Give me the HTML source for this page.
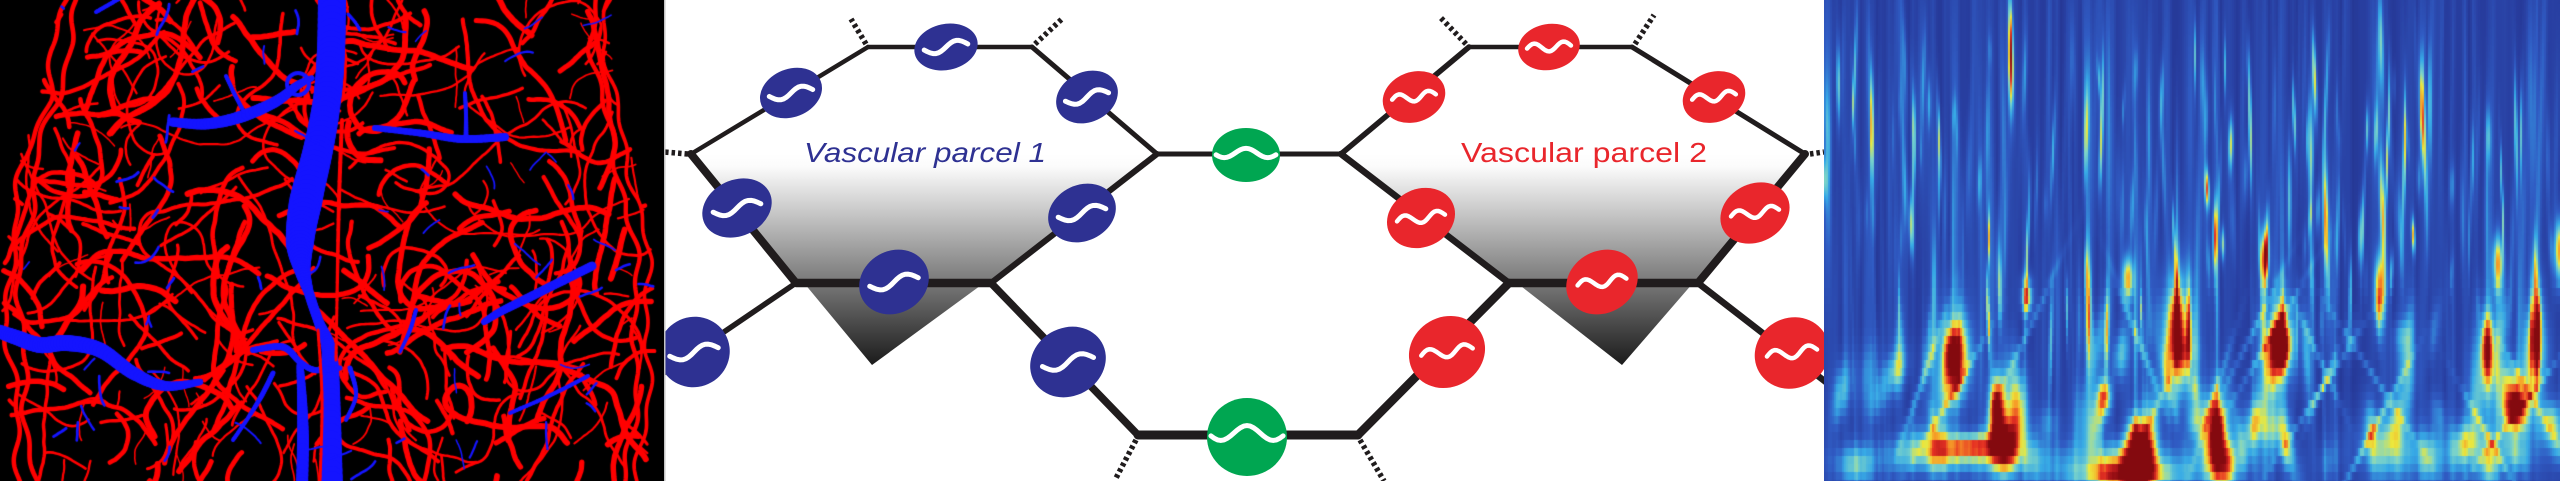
<!DOCTYPE html>
<html><head><meta charset="utf-8">
<style>
html,body{margin:0;padding:0;background:#fff;}
body{width:2560px;height:481px;overflow:hidden;position:relative;}
#dg{position:absolute;left:0;top:0;}
#brain{position:absolute;left:0;top:0;background:#000;}
#spec{position:absolute;left:1824px;top:0;background:#2c42a2;}
</style></head>
<body>
<svg id="dg" width="2560" height="481" viewBox="0 0 2560 481" xmlns="http://www.w3.org/2000/svg">
<defs>
<linearGradient id="gr" x1="0" y1="154" x2="0" y2="365" gradientUnits="userSpaceOnUse">
<stop offset="0" stop-color="#ffffff"/><stop offset="0.06" stop-color="#fbfbfb"/><stop offset="1" stop-color="#1b1b1b"/>
</linearGradient>
<polyline id="gb" fill="none" stroke="#fff" stroke-width="5" stroke-linecap="round" stroke-linejoin="round" vector-effect="non-scaling-stroke" points="-22,0 -19.25,2.3 -16.5,4.24 -13.75,5.55 -11,6 -8.25,5.55 -5.5,4.24 -2.75,2.3 0,0 2.75,-2.3 5.5,-4.24 8.25,-5.55 11,-6 13.75,-5.55 16.5,-4.24 19.25,-2.3 22,0"/>
<polyline id="gr2" fill="none" stroke="#fff" stroke-width="4.5" stroke-linecap="round" stroke-linejoin="round" vector-effect="non-scaling-stroke" points="-22,0 -20.17,-2.1 -18.33,-3.89 -16.5,-5.08 -14.67,-5.5 -12.83,-5.08 -11,-3.89 -9.17,-2.1 -7.33,0 -5.5,2.1 -3.67,3.89 -1.83,5.08 0,5.5 1.83,5.08 3.67,3.89 5.5,2.1 7.33,0 9.17,-2.1 11,-3.89 12.83,-5.08 14.67,-5.5 16.5,-5.08 18.33,-3.89 20.17,-2.1 22,0"/>
<polyline id="gg" fill="none" stroke="#fff" stroke-width="5" stroke-linecap="round" stroke-linejoin="round" vector-effect="non-scaling-stroke" points="-22,2.5 -20,4.6 -18,6 -16,6.5 -14,6 -12,4.6 -10,2.5 -8,0 -6,-2.5 -4,-4.6 -2,-6 0,-6.5 2,-6 4,-4.6 6,-2.5 8,0 10,2.5 12,4.6 14,6 16,6.5 18,6 20,4.6 22,2.5"/>
</defs>

<polygon points="691,154 1157,154 991,283 984,283 872,365 804,283 796,283" fill="url(#gr)"/>
<polygon points="1341,154 1807,154 1698,283 1693,283 1622,365 1517,283 1509,283" fill="url(#gr)"/>

<g stroke="#201c1d" stroke-linecap="round" fill="none">
<line x1="691" y1="154" x2="868" y2="47" stroke-width="4.5"/>
<line x1="868" y1="47" x2="1032" y2="47" stroke-width="4.5"/>
<line x1="1032" y1="47" x2="1157" y2="154" stroke-width="5"/>
<line x1="691" y1="154" x2="796" y2="283" stroke-width="8"/>
<line x1="1157" y1="154" x2="991" y2="283" stroke-width="6"/>
<line x1="796" y1="283" x2="991" y2="283" stroke-width="8.5"/>
<line x1="796" y1="283" x2="640" y2="389" stroke-width="5.5"/>
<line x1="991" y1="283" x2="1138" y2="435" stroke-width="7.5"/>
<line x1="1138" y1="435" x2="1358" y2="435" stroke-width="9"/>
<line x1="1157" y1="154" x2="1341" y2="154" stroke-width="5"/>
<line x1="1341" y1="154" x2="1469" y2="47" stroke-width="5.5"/>
<line x1="1469" y1="47" x2="1632" y2="47" stroke-width="4.5"/>
<line x1="1632" y1="47" x2="1805" y2="154" stroke-width="5"/>
<line x1="1341" y1="154" x2="1509" y2="283" stroke-width="6.5"/>
<line x1="1805" y1="154" x2="1698" y2="283" stroke-width="8"/>
<line x1="1509" y1="283" x2="1698" y2="283" stroke-width="8.5"/>
<line x1="1509" y1="283" x2="1358" y2="435" stroke-width="8.5"/>
<line x1="1698" y1="283" x2="1840" y2="393" stroke-width="6.5"/>
</g>
<g stroke="#201c1d" stroke-width="5.5" stroke-dasharray="3.5 3" fill="none">
<line x1="688" y1="154" x2="664" y2="152"/>
<line x1="866" y1="44" x2="851" y2="19"/>
<line x1="1035" y1="44" x2="1063" y2="18"/>
<line x1="1136" y1="440" x2="1115" y2="480"/>
<line x1="1466" y1="44" x2="1440" y2="17"/>
<line x1="1635" y1="44" x2="1654" y2="15"/>
<line x1="1360" y1="440" x2="1384" y2="481"/>
<line x1="1810" y1="154" x2="1824" y2="152"/>
</g>

<g fill="#2e3192">
<g transform="translate(791,93)"><ellipse rx="32" ry="24" transform="rotate(-22)"/><use href="#gb" transform="rotate(-9) scale(1,0.85)"/></g>
<g transform="translate(946,47)"><ellipse rx="32" ry="23" transform="rotate(-12)"/><use href="#gb" transform="rotate(-8) scale(1,0.85)"/></g>
<g transform="translate(1087,97)"><ellipse rx="32" ry="25" transform="rotate(-25)"/><use href="#gb" transform="rotate(-11) scale(1,0.85)"/></g>
<g transform="translate(737,208)"><ellipse rx="36" ry="28" transform="rotate(-25)"/><use href="#gb" transform="rotate(-10) scale(1.1,0.92)"/></g>
<g transform="translate(1082,213)"><ellipse rx="35" ry="28" transform="rotate(-25)"/><use href="#gb" transform="rotate(-10) scale(1.1,0.92)"/></g>
<g transform="translate(894,282)"><ellipse rx="36" ry="31" transform="rotate(-30)"/><use href="#gb" transform="rotate(-10) scale(1.12,0.95)"/></g>
<g transform="translate(694,352)"><ellipse rx="36" ry="35" transform="rotate(-30)"/><use href="#gb" transform="rotate(-10) scale(1.12,0.95)"/></g>
<g transform="translate(1068,362)"><ellipse rx="39" ry="34" transform="rotate(-30)"/><use href="#gb" transform="rotate(-10) scale(1.18,1)"/></g>
</g>
<g fill="#e9262c">
<g transform="translate(1414,97)"><ellipse rx="32" ry="25" transform="rotate(-20)"/><use href="#gr2" transform="rotate(-7) scale(1,0.8)"/></g>
<g transform="translate(1549,47)"><ellipse rx="31" ry="23" transform="rotate(-10)"/><use href="#gr2" transform="rotate(-4) scale(1,0.8)"/></g>
<g transform="translate(1714,97)"><ellipse rx="32" ry="25" transform="rotate(-20)"/><use href="#gr2" transform="rotate(-7) scale(1,0.8)"/></g>
<g transform="translate(1421,218)"><ellipse rx="35" ry="29" transform="rotate(-25)"/><use href="#gr2" transform="rotate(-8) scale(1.1,0.88)"/></g>
<g transform="translate(1755,213)"><ellipse rx="36" ry="29" transform="rotate(-28)"/><use href="#gr2" transform="rotate(-8) scale(1.1,0.88)"/></g>
<g transform="translate(1602,282)"><ellipse rx="37" ry="31" transform="rotate(-28)"/><use href="#gr2" transform="rotate(-8) scale(1.12,0.9)"/></g>
<g transform="translate(1447,352)"><ellipse rx="39" ry="35" transform="rotate(-30)"/><use href="#gr2" transform="rotate(-8) scale(1.18,0.95)"/></g>
<g transform="translate(1792,353)"><ellipse rx="38" ry="35" transform="rotate(-30)"/><use href="#gr2" transform="rotate(-8) scale(1.15,0.95)"/></g>
</g>
<g fill="#00a651">
<g transform="translate(1246,155)"><ellipse rx="34" ry="27"/><use href="#gg" transform="translate(0,-2) scale(1.36,0.72)"/></g>
<g transform="translate(1247,437)"><ellipse rx="40" ry="39"/><use href="#gg" transform="translate(0,-4) scale(1.64,1.15)"/></g>
</g>

<text x="804" y="162" font-family="Liberation Sans, Arial, sans-serif" font-style="italic" font-size="28" fill="#2e3192" textLength="242" lengthAdjust="spacingAndGlyphs">Vascular parcel 1</text>
<text x="1461" y="162" font-family="Liberation Sans, Arial, sans-serif" font-size="28" fill="#e9262c" textLength="246" lengthAdjust="spacingAndGlyphs">Vascular parcel 2</text>
<rect x="664" y="0" width="1.5" height="481" fill="#c4c4c4"/>
</svg>

<canvas id="brain" width="664" height="481"></canvas>
<canvas id="spec" width="736" height="481"></canvas>

<script>
function mb(a){return function(){a|=0;a=a+0x6D2B79F5|0;var t=Math.imul(a^a>>>15,1|a);t=t+Math.imul(t^t>>>7,61|t)^t;return((t^t>>>14)>>>0)/4294967296;};}
function spline(P){var out=[];for(var i=0;i<P.length-1;i++){var p0=P[Math.max(i-1,0)],p1=P[i],p2=P[i+1],p3=P[Math.min(i+2,P.length-1)];for(var k=0;k<10;k++){var t=k/10,t2=t*t,t3=t2*t;var f=function(a,b,c,d){return 0.5*((2*b)+(-a+c)*t+(2*a-5*b+4*c-d)*t2+(-a+3*b-3*c+d)*t3);};out.push([f(p0[0],p1[0],p2[0],p3[0]),f(p0[1],p1[1],p2[1],p3[1]),p1[2]+(p2[2]-p1[2])*t]);}}out.push(P[P.length-1]);return out;}
function tube(g,P,col){var S=spline(P);g.strokeStyle=col;g.lineCap='round';for(var i=0;i<S.length-1;i++){g.lineWidth=S[i][2];g.beginPath();g.moveTo(S[i][0],S[i][1]);g.lineTo(S[i+1][0],S[i+1][1]);g.stroke();}}

(function(){
var cv=document.getElementById('brain'),g=cv.getContext('2d'),R=mb(11);
g.fillStyle='#000';g.fillRect(0,0,664,481);
var LB=[[0,62],[50,48],[100,40],[150,22],[200,12],[260,4],[330,2],[400,8],[481,16]];
var RB=[[0,615],[50,612],[100,618],[150,632],[200,645],[260,652],[330,656],[400,652],[481,645]];
function ip(P,y){if(y<=P[0][0])return P[0][1];for(var i=1;i<P.length;i++){if(y<=P[i][0]){var t=(y-P[i-1][0])/(P[i][0]-P[i-1][0]);return P[i-1][1]+t*(P[i][1]-P[i-1][1]);}}return P[P.length-1][1];}
function inside(x,y){return y>-8&&y<489&&x>ip(LB,y)&&x<ip(RB,y);}
var GAPS=[[215,215,52,90,0.95],[430,235,45,70,0.6],[470,45,45,50,0.65],[410,115,32,30,0.6],[250,25,40,30,0.45],[560,60,30,40,0.35],[258,300,25,30,0.65],[360,160,25,40,0.5],[120,300,30,30,0.3],[540,330,30,30,0.3]];
function gap(x,y){var m=0;for(var i=0;i<GAPS.length;i++){var G=GAPS[i],dx=(x-G[0])/G[2],dy=(y-G[1])/G[3];var v=G[4]*Math.exp(-(dx*dx+dy*dy));if(v>m)m=v;}return m;}
g.lineCap='round';g.lineJoin='round';
function vessel(col,x,y,a,len,w,wig){g.strokeStyle=col;g.lineWidth=w;g.beginPath();g.moveTo(x,y);var c=(R()-0.5)*0.12;for(var s=0;s<len;s+=3){c+=(R()-0.5)*0.07;c*=0.94;a+=c+(R()-0.5)*wig;x+=3*Math.cos(a);y+=3*Math.sin(a);if(!inside(x,y))break;g.lineTo(x,y);}g.stroke();}
/* smooth boundary vessels */
for(var side=0;side<2;side++){for(var r=0;r<2;r++){g.strokeStyle='#ff0000';g.lineWidth=3.5+R()*2;g.beginPath();var ph=R()*6,ph2=R()*6;for(var y=-4;y<=485;y+=3){var off=4*Math.sin(y/23+ph)+2.5*Math.sin(y/9+ph2);var x=side?ip(RB,y)-6-r*12+off:ip(LB,y)+6+r*12+off;if(y===-4)g.moveTo(x,y);else g.lineTo(x,y);}g.stroke();}}
for(var i=0;i<250;i++){var x,y,tr=0;do{x=R()*664;y=R()*481;tr++;}while((!inside(x,y)||R()<gap(x,y))&&tr<60);
 vessel('#ff0000',x,y,R()*Math.PI*2,30+R()*180,2+R()*4.2,0.28);}
for(var i=0;i<90;i++){var x,y,tr=0;do{x=R()*664;y=R()*481;tr++;}while((!inside(x,y)||R()<gap(x,y))&&tr<60);
 vessel('#ff0000',x,y,R()*Math.PI*2,10+R()*50,1.3+R()*1.5,0.35);}
var B='#1414ff';
tube(g,[[332,-5,28],[331,50,28],[327,100,28],[318,150,30],[306,200,33],[300,240,28],[302,268,16],[308,290,10],[318,320,10],[328,345,14],[330,370,18],[331,420,20],[332,486,22]],B);
tube(g,[[300,365,7],[302,400,10],[303,440,12],[302,486,12]],B);
tube(g,[[172,122,9],[205,124,11],[240,117,12],[275,102,11],[298,85,8],[312,78,5]],B);
tube(g,[[226,76,4],[235,95,4],[244,112,4]],B);
g.lineWidth=4;g.strokeStyle=B;g.beginPath();g.arc(298,84,11,0,Math.PI*2);g.stroke();
tube(g,[[375,128,6],[420,133,7],[462,139,8],[505,137,8]],B);
tube(g,[[465,93,4],[466,115,4],[466,138,5]],B);
tube(g,[[592,266,9],[560,282,9],[530,297,9],[500,312,8],[484,322,6]],B);
tube(g,[[-5,330,13],[15,337,15],[40,345,16],[67,343,16],[100,350,15],[133,373,13],[165,386,10],[200,382,6]],B);
tube(g,[[253,350,6],[283,347,7],[300,362,6],[315,370,6],[340,368,5]],B);
tube(g,[[273,373,5],[262,395,5],[248,418,4],[233,440,4]],B);
tube(g,[[350,368,5],[356,395,4],[346,420,4]],B);
tube(g,[[510,413,4],[540,400,4],[565,388,4],[588,376,4]],B);
tube(g,[[416,310,4],[410,330,4],[400,352,3]],B);
tube(g,[[96,12,4],[110,4,4],[122,-3,4]],B);
tube(g,[[348,14,3],[355,22,3],[360,30,3]],B);
tube(g,[[342,120,4],[339,200,4],[337,300,3],[336,360,3]],'#ff0000');
tube(g,[[318,330,3],[322,400,3],[320,481,3]],'#ff0000');
for(var i=0;i<60;i++){var x,y;do{x=R()*664;y=R()*481;}while(!inside(x,y));vessel(B,x,y,R()*Math.PI*2,6+R()*25,1.5+R()*1.5,0.3);}
})();

(function(){
var W=736,H=481,cv=document.getElementById('spec'),g=cv.getContext('2d'),R=mb(5);
var F=new Float32Array(W*H);
var cn=[];for(var i=0;i<=W/4+3;i++)cn.push((R()-0.5)*0.08);
for(var y=0;y<H;y++)for(var x=0;x<W;x++){var u=x/4,i0=Math.floor(u),t=u-i0;F[y*W+x]=0.13+cn[i0]*(1-t)+cn[i0+1]*t;}
function add(cx,cy,sx,sy,a,tl){tl=tl||0;var ex=Math.abs(tl)*3*sy;var x0=Math.max(0,Math.floor(cx-3*sx-ex)),x1=Math.min(W-1,Math.ceil(cx+3*sx+ex)),y0=Math.max(0,Math.floor(cy-3*sy)),y1=Math.min(H-1,Math.ceil(cy+3*sy));
 for(var y=y0;y<=y1;y++){var dy=(y-cy)/sy,ey=Math.exp(-0.5*dy*dy),ox=cx+tl*(y-cy);for(var x=x0;x<=x1;x++){var dx=(x-ox)/sx;F[y*W+x]+=a*ey*Math.exp(-0.5*dx*dx);}}}
for(var i=0;i<130;i++)add(R()*W,60+R()*320,1+R()*2,60+R()*80,0.04+R()*0.07,(R()-0.5)*0.06);
for(var i=0;i<190;i++)add(R()*W,40+R()*300,0.7+R()*1.2,12+R()*35,0.1+Math.pow(R(),3)*0.5,(R()-0.5)*0.08);
for(var i=0;i<80;i++)add(R()*W,320+R()*150,3+R()*7,10+R()*25,0.1+R()*0.22,(R()-0.5)*0.5);
for(var i=0;i<16;i++)add(R()*W,330+R()*120,2.5,30+R()*20,0.15+R()*0.1,(R()<0.5?-1:1)*(0.3+R()*0.5));
var HS=[[128,350,6,18,0.7],[128,350,13,38,0.32],
[172,405,5,20,0.7],[176,438,9,14,0.65],[148,442,18,8,0.38],[120,445,35,12,0.24],
[310,462,13,18,0.75],[310,430,5,14,0.5],[300,472,38,9,0.42],[330,460,70,15,0.2],
[352,325,5,28,0.7],[352,325,12,50,0.3],
[392,425,5,20,0.7],[392,425,13,35,0.3],
[457,343,5,15,0.7],[457,343,12,28,0.3],
[690,403,8,14,0.7],[690,403,16,28,0.27],
[662,345,4,22,0.62],[662,345,10,35,0.22],
[440,257,3,18,0.6],[555,287,4,24,0.55],[673,263,3.5,20,0.55],[202,293,4,12,0.55],[303,277,4,14,0.5],[279,393,5,12,0.5],[734,250,3,22,0.6],
[150,455,80,14,0.2],[640,450,60,20,0.22],[30,462,14,14,0.3],[560,440,25,25,0.16]];
for(var i=0;i<HS.length;i++){var h=HS[i];add(h[0],h[1],h[2],h[3],h[4]);}
[[128,350],[352,325],[457,343],[662,345],[310,440],[392,425]].forEach(function(p){add(p[0],p[1]-110,1.4,70,0.18);});
var st=[[0,28,38,120],[0.12,40,62,160],[0.25,48,92,196],[0.4,55,170,230],[0.52,125,212,200],[0.62,235,232,60],[0.72,246,160,40],[0.82,230,50,35],[0.92,172,20,25],[1,132,10,15]];
var L=[];for(var i=0;i<256;i++){var v=i/255,j=1;while(j<st.length-1&&v>st[j][0])j++;var a=st[j-1],b=st[j],t=Math.max(0,Math.min(1,(v-a[0])/(b[0]-a[0])));L.push([a[1]+t*(b[1]-a[1]),a[2]+t*(b[2]-a[2]),a[3]+t*(b[3]-a[3])]);}
var im=g.createImageData(W,H),d=im.data;
for(var y=0;y<H;y++){var qy=y>280?y-((y-280)%8):y;for(var x=0;x<W;x++){var qx=x-(x%2);var v=F[qy*W+qx];if(v<0)v=0;if(v>1)v=1;var c=L[Math.round(v*255)],o=(y*W+x)*4;d[o]=c[0];d[o+1]=c[1];d[o+2]=c[2];d[o+3]=255;}}
g.putImageData(im,0,0);
})();
</script>
</body></html>
